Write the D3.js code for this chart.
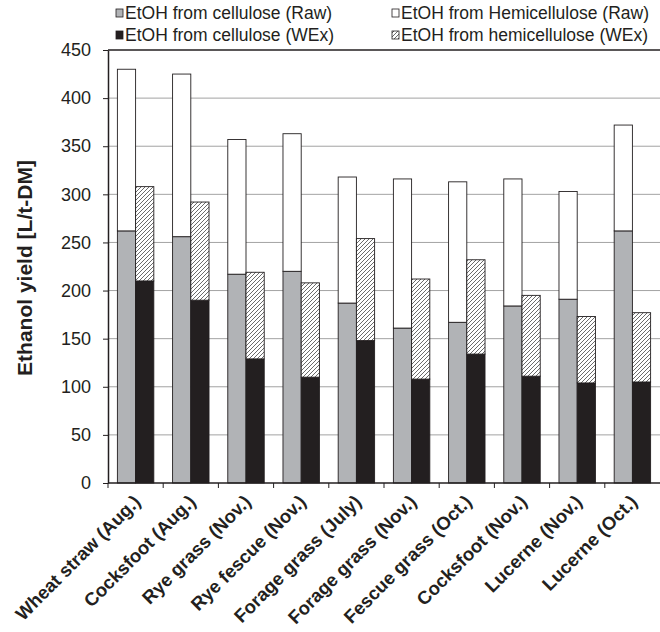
<!DOCTYPE html>
<html>
<head>
<meta charset="utf-8">
<script src="https://cdn.jsdelivr.net/npm/d3@7/dist/d3.min.js"></script>
<style>
  body { margin: 0; background: #fff; }
  text { font-family: Arial, "Liberation Sans", sans-serif; fill: #231f20; }
</style>
</head>
<body>
<script>
// data
var categories = ["Wheat straw (Aug.)", "Cocksfoot (Aug.)", "Rye grass (Nov.)", "Rye fescue (Nov.)",
    "Forage grass (July)", "Forage grass (Nov.)", "Fescue grass (Oct.)", "Cocksfoot (Nov.)",
    "Lucerne (Nov.)", "Lucerne (Oct.)"];
var celluloseRaw = [262, 256, 217, 220, 187, 161, 167, 184, 191, 262];
var hemiRaw      = [168, 169, 140, 143, 131, 155, 146, 132, 112, 110];
var celluloseWEx = [210, 190, 129, 110, 148, 108, 134, 111, 104, 105];
var hemiWEx      = [98, 102, 90, 98, 106, 104, 98, 84, 69, 72];
var yTicks = [0, 50, 100, 150, 200, 250, 300, 350, 400, 450];
var legendLabels = ["EtOH from cellulose (Raw)", "EtOH from Hemicellulose (Raw)",
    "EtOH from cellulose (WEx)", "EtOH from hemicellulose (WEx)"];

var width = 660,
    height = 632;

var svg = d3.select("body")
    .append("svg")
    .attr("width", width)
    .attr("height", height);

// hatch pattern for hemicellulose (WEx)
var defs = svg.append("defs");
var pat = defs.append("pattern")
    .attr("id", "hatch")
    .attr("patternUnits", "userSpaceOnUse")
    .attr("width", 4)
    .attr("height", 4);
pat.append("rect").attr("width", 4).attr("height", 4).attr("fill", "#fff");
pat.append("path")
    .attr("d", "M-1,1 l2,-2 M0,4 l4,-4 M3,5 l2,-2")
    .attr("stroke", "#5a5a5a")
    .attr("stroke-width", 0.9);

// scales
var x = d3.scaleBand()
    .domain(categories)
    .range([108, 660])
    .paddingInner(0.34)
    .paddingOuter(0.17);

var xSub = d3.scaleBand()
    .domain(["raw", "wex"])
    .range([0, x.bandwidth()]);

var y = d3.scaleLinear()
    .domain([0, 450])
    .range([483, 50]);

// gridlines
svg.append("g")
    .selectAll("line")
    .data(yTicks.filter(function(d){ return d > 0; }))
    .enter()
    .append("line")
    .attr("x1", 108)
    .attr("x2", 660)
    .attr("y1", function(d){ return y(d); })
    .attr("y2", function(d){ return y(d); })
    .attr("stroke", function(d){ return d == 450 ? "#231f20" : "#a3a3a3"; })
    .attr("stroke-width", function(d){ return d == 450 ? 1.5 : 1; });

// build stacked segments
var segs = [];
categories.forEach(function(c, i){
    segs.push({cat: c, grp: "raw", y0: 0, y1: celluloseRaw[i], fill: "#b1b3b6"});
    segs.push({cat: c, grp: "raw", y0: celluloseRaw[i], y1: celluloseRaw[i] + hemiRaw[i], fill: "#fff"});
    segs.push({cat: c, grp: "wex", y0: 0, y1: celluloseWEx[i], fill: "#231f20"});
    segs.push({cat: c, grp: "wex", y0: celluloseWEx[i], y1: celluloseWEx[i] + hemiWEx[i], fill: "url(#hatch)"});
});

svg.append("g")
    .selectAll("rect")
    .data(segs)
    .enter()
    .append("rect")
    .attr("x", function(d){ return x(d.cat) + xSub(d.grp); })
    .attr("width", xSub.bandwidth())
    .attr("y", function(d){ return y(d.y1); })
    .attr("height", function(d){ return y(d.y0) - y(d.y1); })
    .attr("fill", function(d){ return d.fill; })
    .attr("stroke", "#231f20")
    .attr("stroke-width", 0.9);

// y axis
var yAxis = svg.append("g")
    .attr("transform", "translate(108,0)")
    .call(d3.axisLeft(y).tickValues(yTicks).tickSize(5).tickPadding(12).tickSizeOuter(0));
yAxis.select(".domain").attr("stroke", "#231f20").attr("stroke-width", 1.5);
yAxis.selectAll(".tick line").attr("stroke", "#231f20");
yAxis.selectAll(".tick text")
    .attr("font-size", "18px")
    .attr("font-family", "Arial, 'Liberation Sans', sans-serif")
    .attr("fill", "#231f20");

// x axis line with ticks at band boundaries
var xg = svg.append("g");
xg.append("line")
    .attr("x1", 108).attr("x2", 660)
    .attr("y1", y(0)).attr("y2", y(0))
    .attr("stroke", "#231f20").attr("stroke-width", 1.5);
xg.selectAll(".xt")
    .data(categories)
    .enter()
    .append("line")
    .attr("x1", function(d){ return x(d) - x.step() * x.paddingInner() / 2; })
    .attr("x2", function(d){ return x(d) - x.step() * x.paddingInner() / 2; })
    .attr("y1", y(0))
    .attr("y2", y(0) + 5)
    .attr("stroke", "#231f20");

// x labels
xg.selectAll(".xl")
    .data(categories)
    .enter()
    .append("text")
    .attr("text-anchor", "end")
    .attr("font-size", "18.5px")
    .attr("font-weight", "bold")
    .attr("transform", function(d){
        return "translate(" + (x(d) + x.bandwidth() / 2 + 6) + "," + 503 + ") rotate(-45)";
    })
    .text(function(d){ return d; });

// y title
svg.append("text")
    .attr("transform", "translate(32," + 268 + ") rotate(-90)")
    .attr("text-anchor", "middle")
    .attr("font-size", "21px")
    .attr("font-weight", "bold")
    .text("Ethanol yield [L/t-DM]");

// legend
var legFills = ["#b1b3b6", "#fff", "#231f20", "url(#hatch)"];
var legPos = [[116, 19], [392, 19], [116, 41], [392, 41]];
var leg = svg.append("g")
    .selectAll("g")
    .data(legendLabels)
    .enter()
    .append("g")
    .attr("transform", function(d, i){ return "translate(" + legPos[i][0] + "," + legPos[i][1] + ")"; });
leg.append("rect")
    .attr("x", 0)
    .attr("y", -10)
    .attr("width", 7)
    .attr("height", 8)
    .attr("fill", function(d, i){ return legFills[i]; })
    .attr("stroke", "#231f20")
    .attr("stroke-width", 0.8);
leg.append("text")
    .attr("x", 9)
    .attr("font-size", "17.5px")
    .text(function(d){ return d; });
</script>
</body>
</html>
